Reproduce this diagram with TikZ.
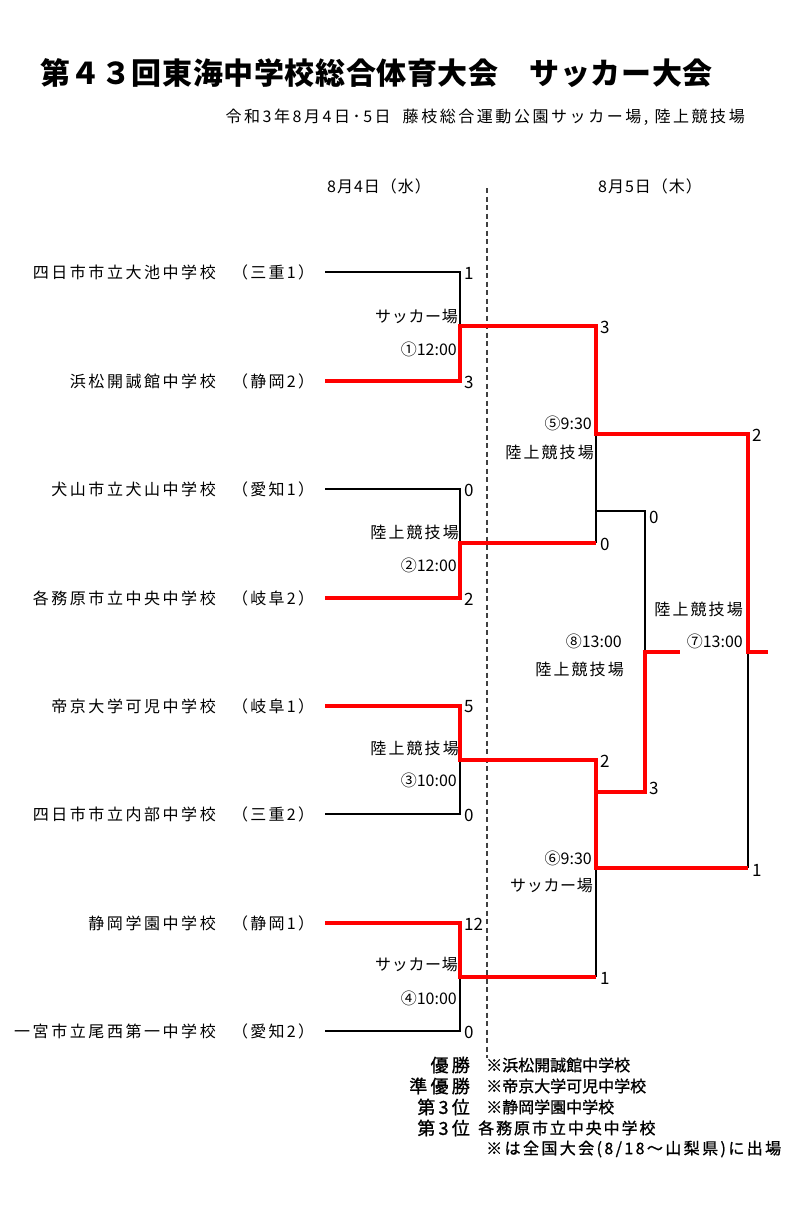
\documentclass[tikz,border=0pt]{standalone}
\usepackage{fontspec}
\setmainfont{Noto Sans CJK JP}
\begin{document}
\begin{tikzpicture}[x=1pt,y=-1pt,
  lose/.style={line width=1.8pt, black, line join=miter},
  win/.style={line width=4.8pt, red, line join=miter},
  team/.style={anchor=east, inner sep=0pt, font=\fontsize{16}{16}\selectfont\addfontfeatures{LetterSpace=16}},
  pref/.style={anchor=west, inner sep=0pt, font=\fontsize{16}{16}\selectfont\addfontfeatures{LetterSpace=14}},
  score/.style={anchor=west, inner sep=0pt, font=\fontsize{17}{17}\selectfont},
  venueA/.style={anchor=east, inner sep=0pt, font=\fontsize{16}{16}\selectfont\addfontfeatures{LetterSpace=13}},
  venueS/.style={anchor=east, inner sep=0pt, font=\fontsize{16}{16}\selectfont\addfontfeatures{LetterSpace=4}},
  time/.style={anchor=east, inner sep=0pt, font=\fontsize{16}{16}\selectfont},
  info/.style={inner sep=0pt, font=\fontsize{16}{16}\selectfont\addfontfeatures{LetterSpace=6}},
  res/.style={inner sep=0pt, font=\fontsize{16}{16}\selectfont\addfontfeatures{FakeBold=1}},
  reslab/.style={anchor=east, inner sep=0pt, font=\fontsize{18}{18}\selectfont\addfontfeatures{FakeBold=1,LetterSpace=18}},
]
\useasboundingbox (0,0) rectangle (792,1212);

% title
\node[anchor=west, inner sep=0pt, font=\fontsize{30}{30}\selectfont\bfseries\addfontfeatures{LetterSpace=2}] (title) at (40,73) {第４３回東海中学校総合体育大会　サッカー大会};
\node[anchor=east, inner sep=0pt, font=\fontsize{16}{16}\selectfont\addfontfeatures{LetterSpace=16}] (sub) at (745,117) {令和3年8月4日･5日\hspace{12pt}藤枝総合運動公園サッカー場, 陸上競技場};

% day headers
\node[info] (d1) at (379,186) {8月4日（水）};
\node[info] (d2) at (650,186) {8月5日（木）};

% dashed day divider
\coordinate (dtop) at (487,188);
\coordinate (dbot) at (487,1058);
\draw[line width=1.2pt, black!75, dash pattern=on 5pt off 3.5pt] (dtop) -- (dbot);

% teams
\foreach \i/\y/\n/\p in {1/272/四日市市立大池中学校/（三重1）,
                         2/381/浜松開誠館中学校/（静岡2）,
                         3/489/犬山市立犬山中学校/（愛知1）,
                         4/598/各務原市立中央中学校/（岐阜2）,
                         5/706/帝京大学可児中学校/（岐阜1）,
                         6/814/四日市市立内部中学校/（三重2）,
                         7/923/静岡学園中学校/（静岡1）,
                         8/1031/一宮市立尾西第一中学校/（愛知2）}{
  \node[team] (t\i) at (216,\y) {\n};
  \node[pref] (p\i) at (232,\y) {\p};
  \coordinate (a\i) at (325,\y);
  \coordinate (b\i) at (460,\y);
}

% round-1 joins
\coordinate (m1) at (460,326);
\coordinate (m2) at (460,543);
\coordinate (m3) at (460,760);
\coordinate (m4) at (460,977);
% round-2 inputs
\coordinate (c1) at (596,326);
\coordinate (c2) at (596,543);
\coordinate (c3) at (596,760);
\coordinate (c4) at (596,977);
\coordinate (s1) at (596,434);
\coordinate (s2) at (596,868);
\coordinate (f1) at (748,434);
\coordinate (f2) at (748,868);
\coordinate (fm) at (748,652);
\coordinate (fe) at (768,652);
% third place
\coordinate (q1) at (596,511);
\coordinate (q1r) at (645,511);
\coordinate (q2) at (596,792);
\coordinate (q2r) at (645,792);
\coordinate (qm) at (645,652);
\coordinate (qe) at (680,652);

% losing lines
\draw[lose] (a1) -- (b1) -- (m1);
\draw[lose] (a3) -- (b3) -- (m2);
\draw[lose] (a6) -- (b6) -- (m3);
\draw[lose] (a8) -- (b8) -- (m4);
\draw[lose] (s1) -- (c2);
\draw[lose] (q1) -- (q1r) -- (qm);
\draw[lose] (s2) -- (c4);
\draw[lose] (fm) -- (f2);

% winning lines
\draw[win] (a2) -- (b2) -- (m1) -- (c1) -- (s1) -- (f1) -- (fm) -- (fe);
\draw[win] (a4) -- (b4) -- (m2) -- (c2);
\draw[win] (a5) -- (b5) -- (m3) -- (c3) -- (s2) -- (f2);
\draw[win] (a7) -- (b7) -- (m4) -- (c4);
\draw[win] (q2) -- (q2r) -- (qm) -- (qe);

% scores
\node[score] (sc1) at (464,273) {1};
\node[score] (sc2) at (464,382) {3};
\node[score] (sc3) at (464,490) {0};
\node[score] (sc4) at (464,599) {2};
\node[score] (sc5) at (464,707) {5};
\node[score] (sc6) at (464,815) {0};
\node[score] (sc7) at (464,924) {12};
\node[score] (sc8) at (464,1032) {0};
\node[score] (sc9) at (600,327) {3};
\node[score] (sc10) at (600,544) {0};
\node[score] (sc11) at (600,761) {2};
\node[score] (sc12) at (600,978) {1};
\node[score] (sc13) at (649,517) {0};
\node[score] (sc14) at (649,788) {3};
\node[score] (sc15) at (752,435) {2};
\node[score] (sc16) at (752,870) {1};

% venues and times
\node[venueS] (v1) at (458,317) {サッカー場};
\node[time]  (h1) at (457,349) {①12:00};
\node[venueA] (v2) at (459,532) {陸上競技場};
\node[time]  (h2) at (457,565) {②12:00};
\node[venueA] (v3) at (459,748) {陸上競技場};
\node[time]  (h3) at (457,780) {③10:00};
\node[venueS] (v4) at (458,965) {サッカー場};
\node[time]  (h4) at (457,998) {④10:00};
\node[time]  (h5) at (592,423) {⑤9:30};
\node[venueA] (v5) at (594,452) {陸上競技場};
\node[time]  (h6) at (592,858) {⑥9:30};
\node[venueS] (v6) at (593,886) {サッカー場};
\node[time]  (h8) at (622,641) {⑧13:00};
\node[venueA] (v8) at (624,669) {陸上競技場};
\node[venueA] (v7) at (743,609) {陸上競技場};
\node[time]  (h7) at (743,641) {⑦13:00};

% results
\node[reslab] (r1l) at (470,1065) {優勝};
\node[res, anchor=west] (r1) at (486,1065) {※浜松開誠館中学校};
\node[reslab] (r2l) at (470,1086) {準優勝};
\node[res, anchor=west] (r2) at (486,1086) {※帝京大学可児中学校};
\node[reslab] (r3l) at (470,1107) {第3位};
\node[res, anchor=west] (r3) at (486,1107) {※静岡学園中学校};
\node[reslab] (r4l) at (470,1128) {第3位};
\node[res, anchor=west, font=\fontsize{16}{16}\selectfont\addfontfeatures{FakeBold=1,LetterSpace=12}] (r4) at (478,1128) {各務原市立中央中学校};
\node[res, anchor=west, font=\fontsize{16}{16}\selectfont\addfontfeatures{FakeBold=1,LetterSpace=15}] (r5) at (486,1149) {※は全国大会(8/18～山梨県)に出場};
\end{tikzpicture}
\end{document}
